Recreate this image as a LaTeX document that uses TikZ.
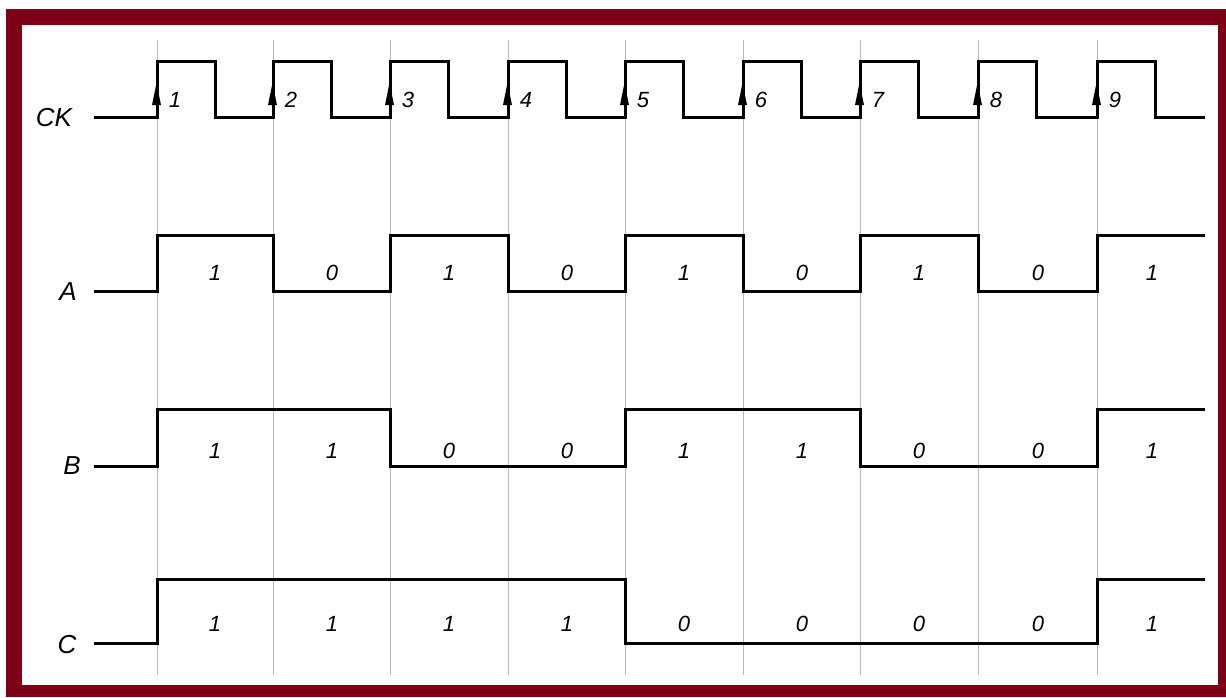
\documentclass[tikz,border=0pt]{standalone}
\usepackage{fontspec}
\setmainfont{Liberation Sans}
\definecolor{frame}{RGB}{125,0,22}
\definecolor{grid}{RGB}{185,185,185}
\tikzset{
  sig/.style={line width=3pt, line cap=rect, line join=miter, black},
  gridline/.style={grid, line width=0.8pt},
  signame/.style={font=\itshape\fontsize{26}{26}\selectfont},
  val/.style={font=\itshape\fontsize{22}{22}\selectfont},
  cknum/.style={font=\itshape\fontsize{22}{22}\selectfont},
  ckarrow/.style={fill=black}
}
\begin{document}
\begin{tikzpicture}[x=1pt,y=-1pt]
\useasboundingbox (0,0) rectangle (1226,697);
% frame
\fill[frame] (6,9) rectangle (1226,697);
\fill[white] (22,25) rectangle (1218,685);
% grid lines at rising clock edges
\foreach \e in {157,273,390,508,625,743,860,978,1097}
  \draw[gridline] (\e,40) -- (\e,675);
% signal names
\node[signame] (nCK) at (54,118) {CK};
\node[signame] (nA) at (68,292) {A};
\node[signame] (nB) at (72,466) {B};
\node[signame] (nC) at (67,645) {C};
% CK waveform
\draw[sig] (95,117)
  \foreach \e in {157,273,390,508,625,743,860,978,1097} {
    -- (\e,117) -- (\e,61) -- ({\e+58},61) -- ({\e+58},117)
  } -- (1203,117);
% clock arrows and numbers
\foreach \e [count=\i] in {157,273,390,508,625,743,860,978,1097} {
  \fill[ckarrow] ({\e-5},105) -- ({\e-0.5},83) -- ({\e+4},105) -- cycle;
  \node[cknum] (k\i) at ({\e+18},100) {\i};
}
% A
\draw[sig] (95,291) -| (157,235) -| (273,291) -| (390,235) -| (508,291)
  -| (625,235) -| (743,291) -| (860,235) -| (978,291) -| (1097,235) -- (1203,235);
% B
\draw[sig] (95,466) -| (157,409) -| (390,466) -| (625,409) -| (860,466)
  -| (1097,409) -- (1203,409);
% C
\draw[sig] (95,643) -| (157,579) -| (625,643) -| (1097,579) -- (1203,579);
% values
\foreach \x/\a/\b/\c [count=\i] in {215/1/1/1, 332/0/1/1, 449/1/0/1, 567/0/0/1,
  684/1/1/0, 802/0/1/0, 919/1/0/0, 1038/0/0/0, 1152/1/1/1} {
  \node[val] (a\i) at (\x,273) {\a};
  \node[val] (b\i) at (\x,451) {\b};
  \node[val] (c\i) at (\x,624) {\c};
}
\end{tikzpicture}
\end{document}
